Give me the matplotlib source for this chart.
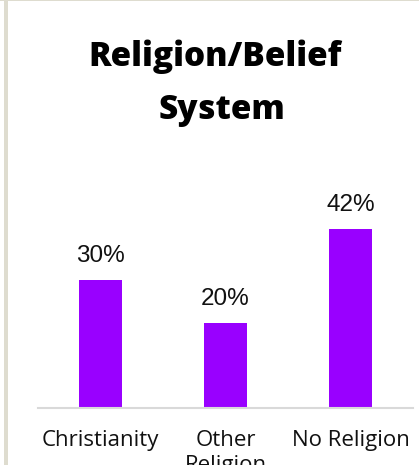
import matplotlib
matplotlib.use('Agg')
import matplotlib.pyplot as plt
from matplotlib.patches import Rectangle

categories = ['Christianity', 'Other\nReligion', 'No Religion']
shares = [30, 20, 42]
value_labels = ['30%', '20%', '42%']

W, H = 419, 465
fig = plt.figure(figsize=(W / 100, H / 100), dpi=100)
fig.patch.set_facecolor('white')

# beige frame on the left / top
fig.add_artist(Rectangle((4 / W, 0), 4 / W, 1, transform=fig.transFigure,
                         facecolor='#DEDCCF', edgecolor='none'))
fig.add_artist(Rectangle((0, 1 - 1.5 / H), 1, 1.5 / H, transform=fig.transFigure,
                         facecolor='#DEDCCF', edgecolor='none'))

ax = fig.add_axes([38 / W, 57 / H, 375 / W, 213.5 / H])
x = range(len(categories))
ax.bar(x, shares, width=0.35, color='#9900FF')
ax.set_xlim(-0.5, 2.5)
ax.set_ylim(0, 50)

for xi, v, lab in zip(x, shares, value_labels):
    ax.annotate(lab, (xi, v), xytext=(0, 13), textcoords='offset points',
                ha='center', va='baseline', fontsize=17.5,
                family='Liberation Sans', color='#111111')

ax.set_xticks(list(x))
ax.set_xticklabels(categories, fontsize=16, family='Open Sans', color='#111111',
                   va='top', linespacing=1.25)
ax.tick_params(axis='x', length=0, pad=16)
ax.set_yticks([])
for pos in ['top', 'left', 'right']:
    ax.spines[pos].set_visible(False)
ax.spines['bottom'].set_color('#D9D9D9')
ax.spines['bottom'].set_linewidth(1.5)

title_font = dict(ha='center', va='center', fontsize=24, fontweight=800,
                  family=['Open Sans', 'DejaVu Sans'])
fig.text(215 / W, 1 - 57 / H, 'Religion/Belief', **title_font)
fig.text(222 / W, 1 - 110 / H, 'System', **title_font)

fig.savefig('out.png', dpi=100)
